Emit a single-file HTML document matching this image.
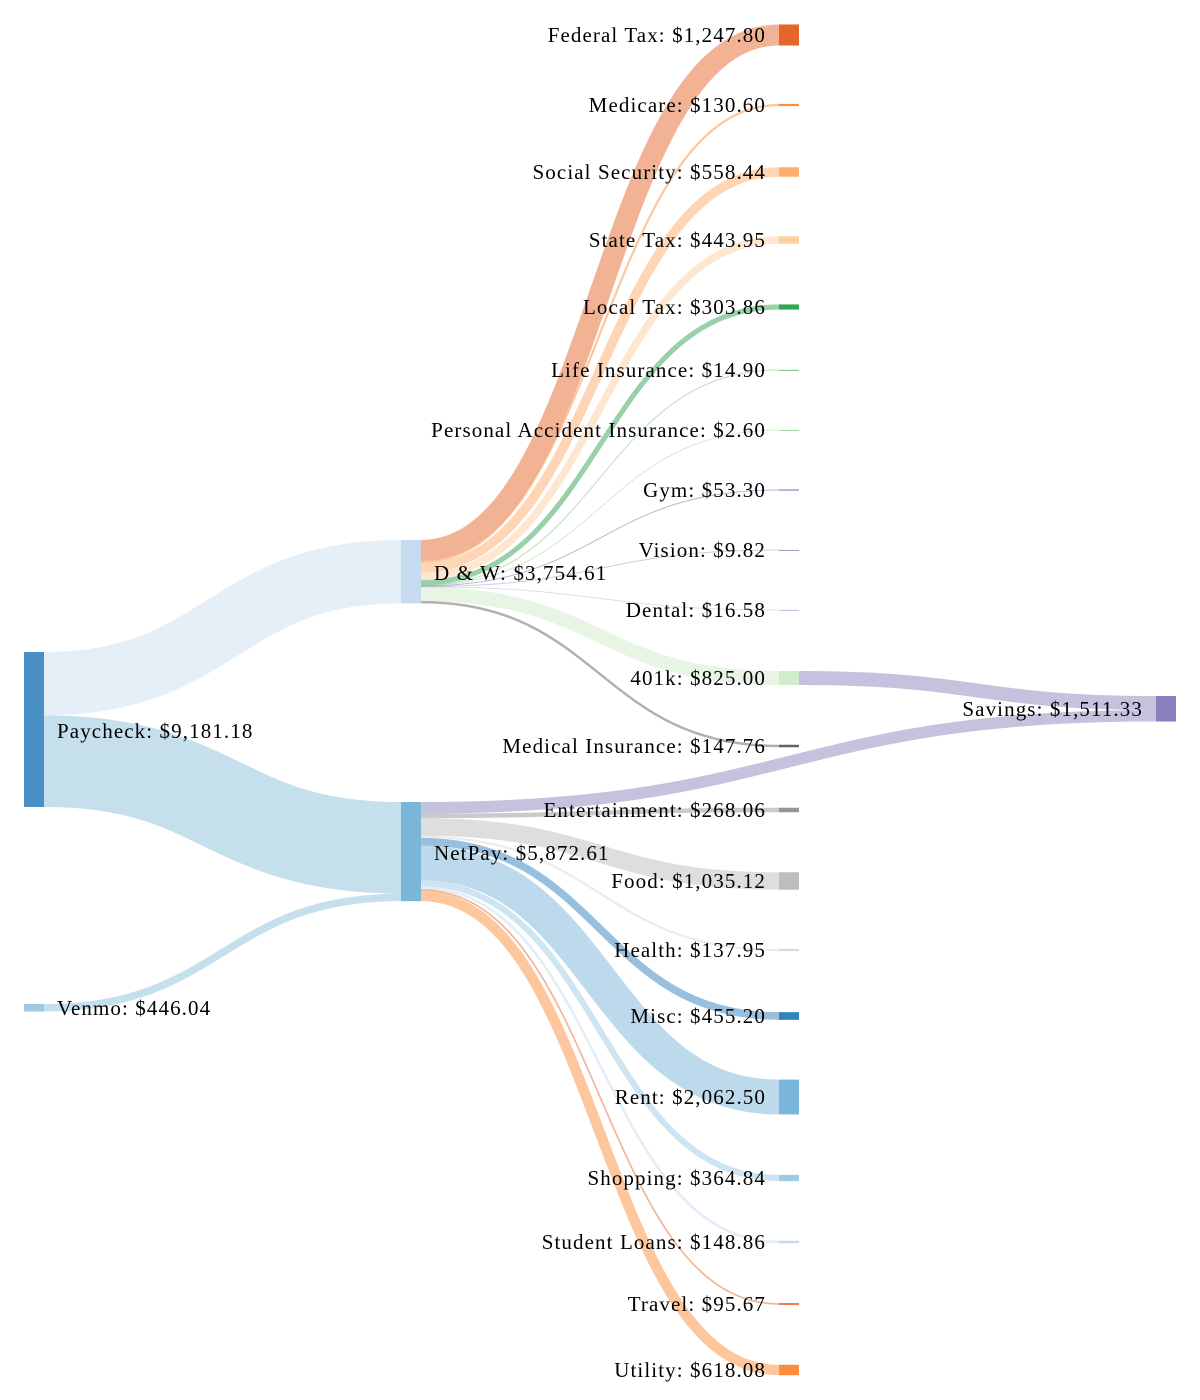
<!DOCTYPE html>
<html><head><meta charset="utf-8"><style>
html,body{margin:0;padding:0;background:#fff;width:1200px;height:1400px;overflow:hidden}
svg text{font-family:"Liberation Serif","Times New Roman",serif;font-size:21px;letter-spacing:1.1px;fill:#000;dominant-baseline:middle}
</style></head><body>
<svg id="s" width="1200" height="1400" xmlns="http://www.w3.org/2000/svg">
<g id="links" fill="none"></g>
<g id="nodes"></g>
<g transform="translate(0,2)">
<text x="57" y="731">Paycheck: $9,181.18</text>
<text x="57" y="1008">Venmo: $446.04</text>
<text x="434" y="573">D &amp; W: $3,754.61</text>
<text x="434" y="853">NetPay: $5,872.61</text>
<text x="1143" y="709" text-anchor="end">Savings: $1,511.33</text>
<g text-anchor="end">
<text x="766" y="35">Federal Tax: $1,247.80</text>
<text x="766" y="105">Medicare: $130.60</text>
<text x="766" y="172">Social Security: $558.44</text>
<text x="766" y="240">State Tax: $443.95</text>
<text x="766" y="307">Local Tax: $303.86</text>
<text x="766" y="370">Life Insurance: $14.90</text>
<text x="766" y="430">Personal Accident Insurance: $2.60</text>
<text x="766" y="490">Gym: $53.30</text>
<text x="766" y="550">Vision: $9.82</text>
<text x="766" y="610">Dental: $16.58</text>
<text x="766" y="678">401k: $825.00</text>
<text x="766" y="746">Medical Insurance: $147.76</text>
<text x="766" y="810">Entertainment: $268.06</text>
<text x="766" y="881">Food: $1,035.12</text>
<text x="766" y="950">Health: $137.95</text>
<text x="766" y="1016">Misc: $455.20</text>
<text x="766" y="1097">Rent: $2,062.50</text>
<text x="766" y="1178">Shopping: $364.84</text>
<text x="766" y="1242">Student Loans: $148.86</text>
<text x="766" y="1304">Travel: $95.67</text>
<text x="766" y="1370">Utility: $618.08</text>
</g>
</g>
</svg>
<script>
var k=155/9181.18;
var N={
P:{x:24,y0:652,v:9181.18,c:"#4a8fc6"},
V:{x:24,y0:1004,v:446.04,c:"#9ecae1"},
DW:{x:401,y0:540,v:3754.61,c:"#c6dbef"},
NP:{x:401,y0:802,v:5872.61,c:"#7ab6da"},
S:{x:1156,y0:696,v:1511.33,c:"#8a80bf"}
};
var c3=[["FT",35,1247.80,"#e6652a"],["MC",105,130.60,"#fd8d3c"],["SS",172,558.44,"#fdae6b"],["ST",240,443.95,"#fdd0a2"],["LT",307,303.86,"#31a354"],["LI",370,14.90,"#74c476"],["PA",430,2.60,"#a1d99b"],["GY",490,53.30,"#756bb1"],["VI",550,9.82,"#9e9ac8"],["DE",610,16.58,"#bcbddc"],["K4",678,825,"#d2ebcc"],["MI",746,147.76,"#636363"],["EN",810,268.06,"#969696"],["FO",881,1035.12,"#bdbdbd"],["HE",950,137.95,"#d9d9d9"],["MS",1016,455.20,"#3182bd"],["RE",1097,2062.50,"#7ab6da"],["SH",1178,364.84,"#9ecae1"],["SL",1242,148.86,"#c6dbef"],["TR",1304,95.67,"#e6652a"],["UT",1370,618.08,"#fd8d3c"]];
c3.forEach(function(a){N[a[0]]={x:779,y0:a[1]-a[2]*k/2,v:a[2],c:a[3]};});
var L=[["P","DW",3754.61],["P","NP",5426.57],["V","NP",446.04]];
["FT","MC","SS","ST","LT","LI","PA","GY","VI","DE","K4","MI"].forEach(function(t){L.push(["DW",t,N[t].v]);});
L.push(["K4","S",825]);
L.push(["NP","S",686.33]);
["EN","FO","HE","MS","RE","SH","SL","TR","UT"].forEach(function(t){L.push(["NP",t,N[t].v]);});
var so={},to={};
var lc={"DW":"#c6dbef","NP":"#9ecae1","S":"#9e9ac8"};
var g=document.getElementById("links"),ns="http://www.w3.org/2000/svg";
L.forEach(function(l){
var s=N[l[0]],t=N[l[1]],w=l[2]*k;
so[l[0]]=so[l[0]]||0;to[l[1]]=to[l[1]]||0;
var y1=s.y0+so[l[0]]+w/2,y2=t.y0+to[l[1]]+w/2;
so[l[0]]+=w;to[l[1]]+=w;
var x1=s.x+20,x2=t.x,xm=(x1+x2)/2;
var p=document.createElementNS(ns,"path");
p.setAttribute("d","M"+x1+","+y1+"C"+xm+","+y1+" "+xm+","+y2+" "+x2+","+y2);
p.setAttribute("stroke",lc[l[1]]||t.c);
var op=0.5;if(l[1]=="DW")op=0.45;if(l[1]=="NP")op=0.6;if(l[1]=="S")op=0.6;
p.setAttribute("stroke-opacity",op);
p.setAttribute("stroke-width",Math.max(1,w));
g.appendChild(p);
});
var gn=document.getElementById("nodes");
for(var id in N){var n=N[id];var r=document.createElementNS(ns,"rect");
r.setAttribute("x",n.x);r.setAttribute("y",n.y0);r.setAttribute("width",20);
r.setAttribute("height",Math.max(1,n.v*k));r.setAttribute("fill",n.c);gn.appendChild(r);}
</script>
</body></html>
